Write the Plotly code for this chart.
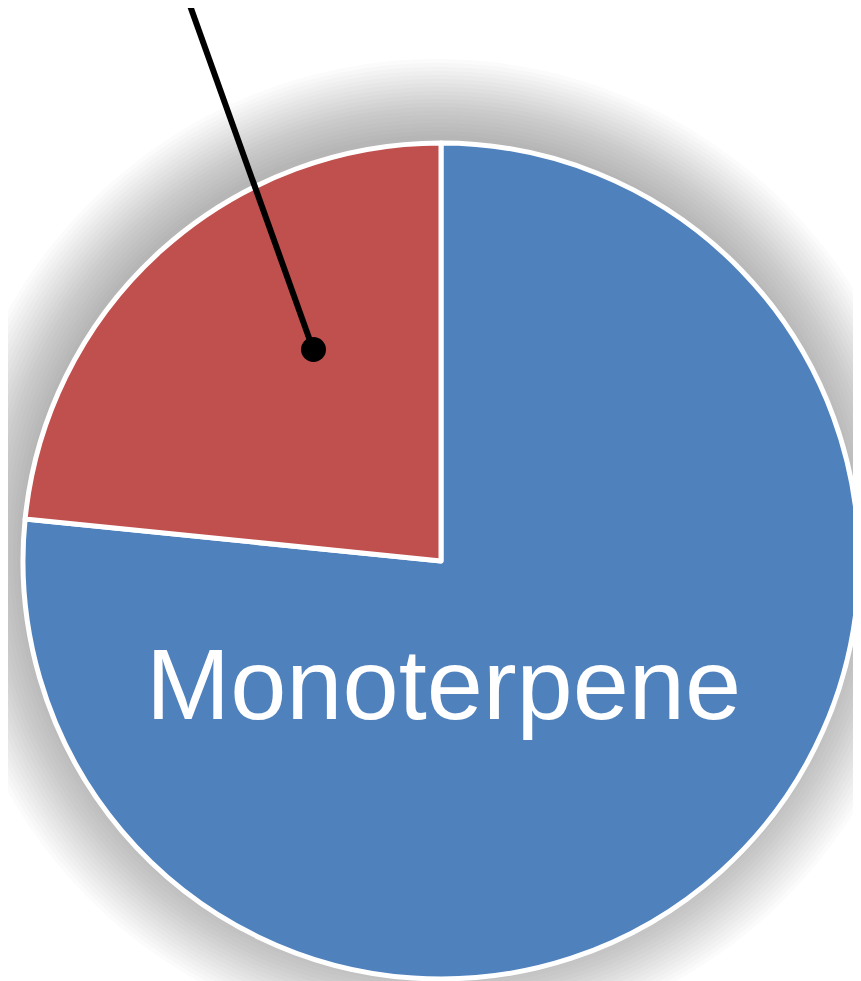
import plotly.graph_objects as go

labels = ["Monoterpene", "Sesquiterpene"]
values = [76.6, 23.4]
colors = ["#4F81BD", "#C0504D"]
label_text = "Monoterpene"

W, H = 861, 981
OFF = 8  # page body margin shifts the figure by 8px
cx, cy, r = 441 - OFF, 561 - OFF, 418

fig = go.Figure()
fig.add_trace(go.Pie(
    labels=labels, values=values, sort=False, direction="clockwise", rotation=0,
    marker=dict(colors=colors, line=dict(color="white", width=5)),
    textinfo="none", hoverinfo="label+percent", showlegend=False,
    domain=dict(x=[(cx - r) / W, (cx + r) / W], y=[(H - cy - r) / H, (H - cy + r) / H]),
))

shapes = []
# soft halo shadow behind pie
for i in range(20):
    rr = r - 2 + i * 4
    ox, oy = cx - 4, cy - 10
    shapes.append(dict(type="circle", xref="paper", yref="paper", layer="below",
                       x0=(ox - rr) / W, x1=(ox + rr) / W,
                       y0=(H - oy - rr) / H, y1=(H - oy + rr) / H,
                       fillcolor="rgba(60,60,60,0.018)", line=dict(width=0)))
# callout line with dot
shapes.append(dict(type="line", xref="paper", yref="paper",
                   x0=(188 - OFF) / W, y0=1 - (0 - OFF) / H, x1=(313 - OFF) / W, y1=1 - (349 - OFF) / H,
                   line=dict(color="black", width=6)))
shapes.append(dict(type="circle", xref="paper", yref="paper",
                   x0=(301 - OFF) / W, x1=(326 - OFF) / W, y0=1 - (362 - OFF) / H, y1=1 - (337 - OFF) / H,
                   fillcolor="black", line=dict(width=0)))

fig.update_layout(
    width=W, height=H, margin=dict(l=0, r=0, t=0, b=0),
    paper_bgcolor="white", plot_bgcolor="white",
    shapes=shapes,
    annotations=[dict(text=label_text, x=(444 - OFF) / W, y=1 - (684 - OFF) / H, xref="paper", yref="paper",
                      showarrow=False, xanchor="center", yanchor="middle",
                      font=dict(family="Liberation Sans Narrow, Arial Narrow, Liberation Sans", size=101, color="white"))],
)
fig.write_html("out.html")
